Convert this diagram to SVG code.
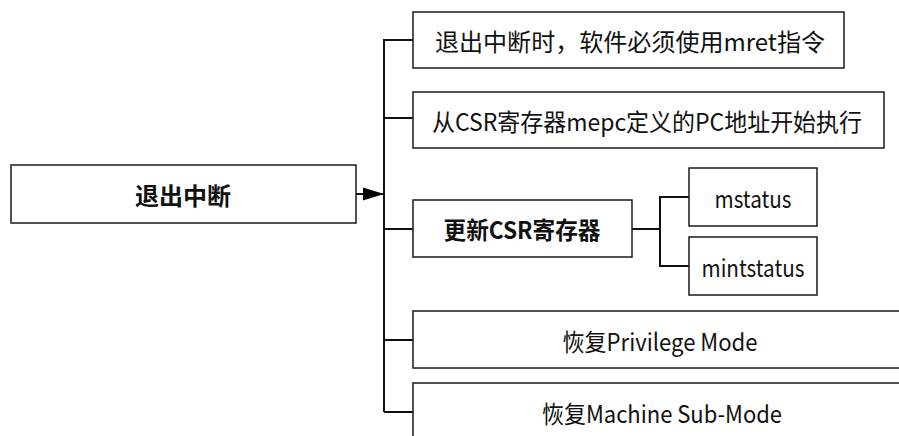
<svg xmlns="http://www.w3.org/2000/svg" width="899" height="436" viewBox="0 0 899 436">
<style>
.box{fill:#fff;stroke:#1a1a1a;stroke-width:1.5}
.t{font-family:"Noto Sans CJK SC","Liberation Sans",sans-serif;font-size:24px;fill:#111;text-anchor:middle;dominant-baseline:central}
.b{font-weight:bold}
.c{fill:none;stroke:#111;stroke-width:2}
</style>
<defs>
<marker id="ah" markerWidth="22" markerHeight="14" refX="21" refY="7" orient="auto" markerUnits="userSpaceOnUse">
<path d="M0,0.5 L21,7 L0,13.5 Z" fill="#000"/>
</marker>
</defs>
<g id="connectors">
<line class="c" x1="356" y1="194" x2="384" y2="194" marker-end="url(#ah)"/>
<line class="c" x1="384" y1="39" x2="384" y2="412"/>
<line class="c" x1="384" y1="40" x2="413" y2="40"/>
<line class="c" x1="384" y1="118" x2="413" y2="118"/>
<line class="c" x1="384" y1="229" x2="413" y2="229"/>
<line class="c" x1="384" y1="340" x2="413" y2="340"/>
<line class="c" x1="384" y1="412" x2="413" y2="412"/>
<line class="c" x1="632" y1="229" x2="660" y2="229"/>
<polyline class="c" points="689,197 660,197 660,266 689,266"/>
</g>
<g id="n-main"><rect class="box" x="11" y="165" width="345" height="58"/><text class="t b" x="183" y="194">退出中断</text></g>
<g id="n1"><rect class="box" x="413" y="12" width="431" height="56"/><text class="t" x="630" y="40" textLength="390" lengthAdjust="spacingAndGlyphs">退出中断时，软件必须使用mret指令</text></g>
<g id="n2"><rect class="box" x="413" y="92" width="471" height="56"/><text class="t" x="647" y="120" textLength="430" lengthAdjust="spacingAndGlyphs">从CSR寄存器mepc定义的PC地址开始执行</text></g>
<g id="n3"><rect class="box" x="413" y="200" width="219" height="57"/><text class="t b" x="522" y="228" textLength="157" lengthAdjust="spacingAndGlyphs">更新CSR寄存器</text></g>
<g id="n3a"><rect class="box" x="689" y="168" width="128" height="58"/><text class="t" x="753" y="197" textLength="77" lengthAdjust="spacingAndGlyphs">mstatus</text></g>
<g id="n3b"><rect class="box" x="689" y="237" width="128" height="58"/><text class="t" x="753" y="266" textLength="103" lengthAdjust="spacingAndGlyphs">mintstatus</text></g>
<g id="n4"><rect class="box" x="413" y="311" width="498" height="57"/><text class="t" x="660" y="340" textLength="195" lengthAdjust="spacingAndGlyphs">恢复Privilege Mode</text></g>
<g id="n5"><rect class="box" x="413" y="383" width="498" height="60"/><text class="t" x="662" y="412" textLength="240" lengthAdjust="spacingAndGlyphs">恢复Machine Sub-Mode</text></g>
</svg>
